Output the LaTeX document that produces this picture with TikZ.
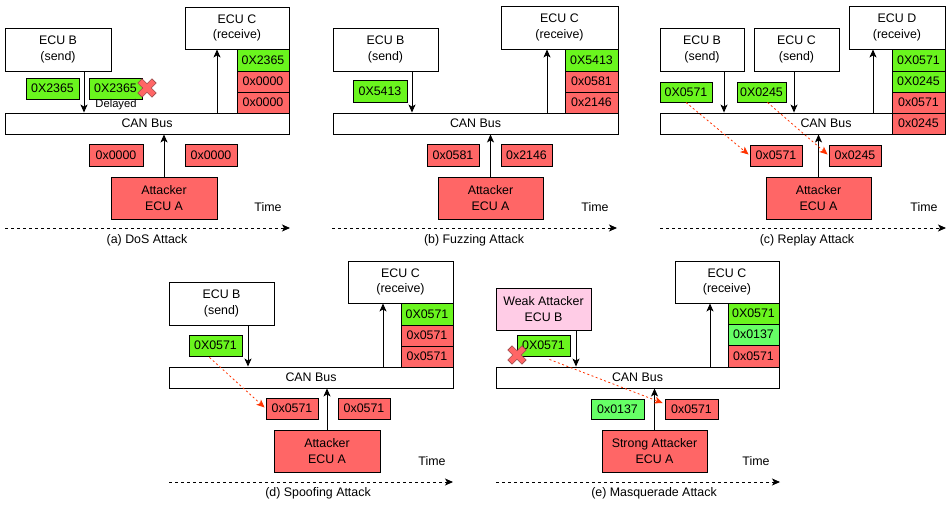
\documentclass[tikz,border=0pt]{standalone}
\usepackage{fontspec}
\setmainfont{Liberation Sans}
\usetikzlibrary{arrows.meta,calc}
\definecolor{gA}{HTML}{6AF51E}
\definecolor{gL}{HTML}{66FF66}
\definecolor{rA}{HTML}{FF6666}
\definecolor{pA}{HTML}{FFCCE6}
\definecolor{aR}{HTML}{FF3300}
\definecolor{xD}{HTML}{9E4A4A}
\newcommand\myfs{\fontsize{12.4}{15.5}\selectfont}
\newcommand\mysmfs{\fontsize{11.2}{13}\selectfont}
\begin{document}
\begin{tikzpicture}[x=1pt,y=-1pt,
 box/.style={draw, line width=0.9pt, inner sep=0pt, align=center, font=\myfs, fill=white},
 wh/.style 2 args={minimum width=#1pt, minimum height=#2pt},
 gbox/.style={box, fill=gA},
 lgbox/.style={box, fill=gL},
 rbox/.style={box, fill=rA},
 pbox/.style={box, fill=pA},
 lbl/.style={font=\myfs, inner sep=0pt},
 arr/.style={line width=0.9pt, -{Stealth[length=8pt,width=7pt,inset=2pt]}},
 rarr/.style={line width=0.8pt, draw=aR, dash pattern=on 2pt off 2.5pt, -{Stealth[length=8pt,width=7pt,inset=2pt,fill=aR]}},
 tl/.style={arr, dash pattern=on 3pt off 3pt},
 xmark/.pic={\filldraw[fill=rA, draw=xD, line width=0.6pt, rotate=45]
   (3,10) -- (3,3) -- (10,3) -- (10,-3) -- (3,-3) -- (3,-10) -- (-3,-10) -- (-3,-3) -- (-10,-3) -- (-10,3) -- (-3,3) -- (-3,10) -- cycle;}
]
\useasboundingbox (0,0) rectangle (947,504);

% ---------- (a) DoS ----------
\node[box, wh={106}{43}] (aB) at (58,49.5) {ECU B\\(send)};
\node[box, wh={104}{42}] (aC) at (237,28) {ECU C\\(receive)};
\node[gbox, wh={52}{22}] (aS1) at (263,60) {0X2365};
\node[rbox, wh={52}{21}] (aS2) at (263,81.5) {0x0000};
\node[rbox, wh={52}{21}] (aS3) at (263,102.5) {0x0000};
\node[box, wh={284}{21}] (aBus) at (147,123.5) {CAN Bus};
\node[gbox, wh={53}{21}] (ag1) at (52.5,88.5) {0X2365};
\node[gbox, wh={53}{21}] (ag2) at (115.5,88.5) {0X2365};
\pic at (147,88) {xmark};
\node[lbl, font=\mysmfs] (aDel) at (116,104.5) {Delayed};
\node[rbox, wh={54}{22}] (ar1) at (116,155) {0x0000};
\node[rbox, wh={52}{22}] (ar2) at (211,155) {0x0000};
\node[rbox, wh={106}{42}] (aA) at (164,198) {Attacker\\ECU A};
\node[lbl] (aT) at (268,207) {Time};
\node[lbl] (aCap) at (147,240) {(a) DoS Attack};
\coordinate (aT0) at (5,228); \coordinate (aT1) at (290,228);
\coordinate (aBx) at (84,0); \coordinate (aCx) at (217,0);
\draw[arr] (aB.south -| aBx) -- (aBus.north -| aBx);
\draw[arr] (aBus.north -| aCx) -- (aC.south -| aCx);
\draw[arr] (aA.north) -- (aBus.south -| aA.north);
\draw[tl] (aT0) -- (aT1);

% ---------- (b) Fuzzing ----------
\node[box, wh={105}{43}] (bB) at (385.5,49.5) {ECU B\\(send)};
\node[box, wh={117}{43}] (bC) at (559.5,27.5) {ECU C\\(receive)};
\node[gbox, wh={53}{22}] (bS1) at (591.5,60) {0X5413};
\node[rbox, wh={53}{21}] (bS2) at (591.5,81.5) {0x0581};
\node[rbox, wh={53}{21}] (bS3) at (591.5,102.5) {0x2146};
\node[box, wh={285}{21}] (bBus) at (475.5,123.5) {CAN Bus};
\node[gbox, wh={54}{22}] (bg) at (380,91) {0X5413};
\node[rbox, wh={52}{22}] (br1) at (453,155) {0x0581};
\node[rbox, wh={51}{22}] (br2) at (526.5,155) {0x2146};
\node[rbox, wh={105}{42}] (bA) at (490.5,198) {Attacker\\ECU A};
\node[lbl] (bT) at (595,207) {Time};
\node[lbl] (bCap) at (474,240) {(b) Fuzzing Attack};
\coordinate (bT0) at (332,228); \coordinate (bT1) at (617,228);
\coordinate (bBx) at (412,0); \coordinate (bCx) at (547,0);
\draw[arr] (bB.south -| bBx) -- (bBus.north -| bBx);
\draw[arr] (bBus.north -| bCx) -- (bC.south -| bCx);
\draw[arr] (bA.north) -- (bBus.south -| bA.north);
\draw[tl] (bT0) -- (bT1);

% ---------- (c) Replay ----------
\node[box, wh={84}{43}] (cB) at (702,49.5) {ECU B\\(send)};
\node[box, wh={85}{43}] (cC) at (796.5,49.5) {ECU C\\(send)};
\node[box, wh={96}{43}] (cD) at (897,27.5) {ECU D\\(receive)};
\node[gbox, wh={53}{22}] (cS1) at (918.5,60) {0X0571};
\node[gbox, wh={53}{21}] (cS2) at (918.5,81.5) {0X0245};
\node[rbox, wh={53}{21}] (cS3) at (918.5,102.5) {0x0571};
\node[rbox, wh={53}{21}] (cS4) at (918.5,123.5) {0x0245};
\node[box, wh={232}{21}] (cBus) at (776,123.5) {};
\node[lbl] (cBusL) at (826,123.5) {CAN Bus};
\node[gbox, wh={52}{20}] (cg1) at (686,92) {0X0571};
\node[gbox, wh={49}{20}] (cg2) at (761.5,92) {0X0245};
\node[rbox, wh={52}{21}] (cr1) at (776,155.5) {0x0571};
\node[rbox, wh={52}{21}] (cr2) at (855,155.5) {0x0245};
\node[rbox, wh={105}{42}] (cA) at (818.5,198) {Attacker\\ECU A};
\node[lbl] (cT) at (924,207) {Time};
\node[lbl] (cCap) at (807,240) {(c) Replay Attack};
\coordinate (cT0) at (660,228); \coordinate (cT1) at (946,228);
\coordinate (cBx) at (724,0); \coordinate (cCx) at (794,0); \coordinate (cDx) at (873,0);
\draw[arr] (cB.south -| cBx) -- (cBus.north -| cBx);
\draw[arr] (cC.south -| cCx) -- (cBus.north -| cCx);
\draw[arr] (cBus.north -| cDx) -- (cD.south -| cDx);
\draw[arr] (cA.north) -- (cBus.south -| cA.north);
\draw[tl] (cT0) -- (cT1);
\draw[rarr] (cg1.south) -- ($(cr1.west)+(-1,-1)$);
\draw[rarr] ($(cg2.south)+(6,0)$) -- ($(cr2.west)+(-1,-1)$);

% ---------- (d) Spoofing ----------
\node[box, wh={105}{43}] (dB) at (221.5,303.5) {ECU B\\(send)};
\node[box, wh={105}{42}] (dC) at (400.5,282) {ECU C\\(receive)};
\node[gbox, wh={52}{22}] (dS1) at (427,314) {0X0571};
\node[rbox, wh={52}{21}] (dS2) at (427,335.5) {0x0571};
\node[rbox, wh={52}{21}] (dS3) at (427,356.5) {0x0571};
\node[box, wh={284}{21}] (dBus) at (311,377.5) {CAN Bus};
\node[gbox, wh={53}{21}] (dg) at (215.5,345.5) {0X0571};
\node[rbox, wh={52}{21}] (dr1) at (292,408.5) {0x0571};
\node[rbox, wh={52}{21}] (dr2) at (364,408.5) {0x0571};
\node[rbox, wh={106}{42}] (dA) at (327,451) {Attacker\\ECU A};
\node[lbl] (dT) at (432,461) {Time};
\node[lbl] (dCap) at (318,493) {(d) Spoofing Attack};
\coordinate (dT0) at (169,482); \coordinate (dT1) at (453,482);
\coordinate (dBx) at (248,0); \coordinate (dCx) at (383,0);
\draw[arr] (dB.south -| dBx) -- (dBus.north -| dBx);
\draw[arr] (dBus.north -| dCx) -- (dC.south -| dCx);
\draw[arr] (dA.north) -- (dBus.south -| dA.north);
\draw[tl] (dT0) -- (dT1);
\draw[rarr] ($(dg.south)+(-6,1)$) -- ($(dr1.west)+(-1,-1)$);

% ---------- (e) Masquerade ----------
\node[pbox, wh={95}{42}] (eB) at (543.5,309) {Weak Attacker\\ECU B};
\node[box, wh={104}{42}] (eC) at (727,282) {ECU C\\(receive)};
\node[gbox, wh={51}{21}] (eS1) at (753.5,313.5) {0X0571};
\node[lgbox, wh={51}{21}] (eS2) at (753.5,334.5) {0x0137};
\node[rbox, wh={51}{22}] (eS3) at (753.5,356) {0x0571};
\node[box, wh={283}{21}] (eBus) at (637.5,377.5) {CAN Bus};
\node[gbox, wh={53}{21}] (eg) at (543.5,345.5) {0X0571};
\pic at (517,355) {xmark};
\node[lgbox, wh={53}{20}] (el) at (617.5,409) {0x0137};
\node[rbox, wh={53}{20}] (er) at (691.5,409) {0x0571};
\node[rbox, wh={105}{42}] (eA) at (654.5,451) {Strong Attacker\\ECU A};
\node[lbl] (eT) at (756,461) {Time};
\node[lbl] (eCap) at (654,493) {(e) Masquerade Attack};
\coordinate (eT0) at (496,482); \coordinate (eT1) at (780,482);
\coordinate (eBx) at (576,0); \coordinate (eCx) at (710,0);
\draw[arr] (eB.south -| eBx) -- (eBus.north -| eBx);
\draw[arr] (eBus.north -| eCx) -- (eC.south -| eCx);
\draw[arr] (eA.north) -- (eBus.south -| eA.north);
\draw[tl] (eT0) -- (eT1);
\draw[rarr] ($(eg.south)+(6,3)$) -- ($(er.west)+(-2,-6)$);
\end{tikzpicture}
\end{document}
